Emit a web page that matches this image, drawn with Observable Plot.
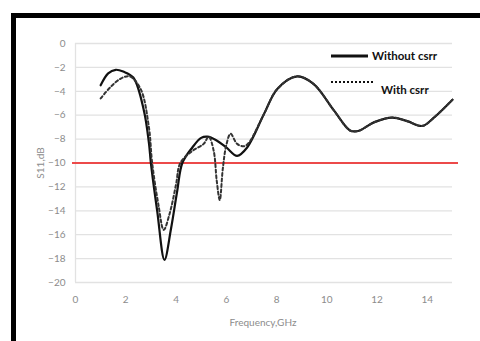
<!DOCTYPE html>
<html>
<head>
<meta charset="utf-8">
<script src="https://cdn.jsdelivr.net/npm/d3@7"></script>
<script src="https://cdn.jsdelivr.net/npm/@observablehq/plot@0.6"></script>
<style>
  html, body { margin: 0; padding: 0; background: #fff; }
  #wrap { position: relative; width: 480px; height: 341px; overflow: hidden; background: #fff; font-family: Lato, "Open Sans", sans-serif; }
  #frame { position: absolute; left: 11px; top: 13px; width: 500px; height: 400px; border-left: 5px solid #000; border-top: 5px solid #000; box-sizing: border-box; pointer-events: none; }
  #chart { position: absolute; left: 0; top: 0; }
  .leg { position: absolute; font-weight: bold; font-size: 11.5px; color: #111; white-space: nowrap; }
  .axt { position: absolute; font-size: 10px; color: #8c8c8c; white-space: nowrap; }
</style>
</head>
<body>
<div id="wrap">
  <div id="chart"></div>
  <div id="frame"></div>
  <svg style="position:absolute;left:0;top:0" width="480" height="341">
    <line x1="331" x2="368" y1="56" y2="56" stroke="#111" stroke-width="3"/>
    <line x1="331" x2="374" y1="82" y2="82" stroke="#111" stroke-width="2" stroke-dasharray="2,2"/>
  </svg>
  <div class="leg" id="leg1" style="left:372px; top:49px;"></div>
  <div class="leg" id="leg2" style="left:381px; top:83px;"></div>
  <div class="axt" id="xlab" style="left:263px; top:316px; transform:translateX(-50%);"></div>
  <div class="axt" id="ylab" style="left:40px; top:163px; transform:translate(-50%,-50%) rotate(-90deg);"></div>
</div>
<script>
const seriesNames = ["Without csrr", "With csrr"];
const xTitle = "Frequency,GHz";
const yTitle = "S11,dB";

const withoutFreq = [1.0, 1.3, 1.6, 1.9, 2.3, 2.72, 2.92, 3.0, 3.25, 3.54, 3.8, 4.05, 4.25, 4.65, 5.0, 5.25, 5.6, 6.0, 6.43, 6.83, 7.5, 8.03, 8.82, 9.48, 10.28, 10.94, 11.28, 11.87, 12.6, 13.2, 13.8, 14.26, 15.0];
const withoutVal  = [-3.5, -2.5, -2.2, -2.35, -2.85, -5.6, -8.3, -10, -14.0, -18.1, -15.5, -12.3, -10, -8.7, -7.9, -7.8, -8.1, -8.7, -9.4, -8.7, -5.9, -3.8, -2.75, -3.4, -5.6, -7.3, -7.3, -6.6, -6.2, -6.5, -6.9, -6.2, -4.7];

const withFreq = [1.0, 1.39, 1.79, 2.15, 2.59, 2.92, 3.05, 3.3, 3.51, 3.75, 4.0, 4.17, 4.64, 5.1, 5.3, 5.5, 5.62, 5.74, 5.86, 6.0, 6.17, 6.43, 6.7, 6.9, 7.5, 8.03, 8.82, 9.48, 10.28, 10.94, 11.28, 11.87, 12.6, 13.2, 13.8, 14.26, 15.0];
const withVal  = [-4.6, -3.65, -2.95, -2.75, -3.8, -7.0, -10, -13.5, -15.6, -14.2, -11.8, -10, -9.0, -8.4, -7.8, -9.0, -11.5, -13.1, -10.5, -8.5, -7.55, -8.4, -8.6, -8.3, -5.9, -3.8, -2.75, -3.4, -5.6, -7.3, -7.3, -6.6, -6.2, -6.5, -6.9, -6.2, -4.7];

const xTicks = [0, 2, 4, 6, 8, 10, 12, 14];
const yTicks = [0, -2, -4, -6, -8, -10, -12, -14, -16, -18, -20];
const threshold = [-10];

const withoutData = withoutFreq.map((f, i) => ({f, v: withoutVal[i]}));
const withData = withFreq.map((f, i) => ({f, v: withVal[i]}));

document.getElementById("leg1").textContent = seriesNames[0];
document.getElementById("leg2").textContent = seriesNames[1];
document.getElementById("xlab").textContent = xTitle;
document.getElementById("ylab").textContent = yTitle;

const chart = Plot.plot({
  width: 480,
  height: 341,
  marginLeft: 75,
  marginRight: 28,
  marginTop: 43,
  marginBottom: 59,
  style: {fontFamily: "Lato, 'Open Sans', sans-serif", fontSize: "10px", color: "#8c8c8c", background: "transparent"},
  x: {domain: [0, 15], ticks: xTicks, tickSize: 0, tickPadding: 13, label: null},
  y: {domain: [-20, 0], ticks: yTicks, tickSize: 0, tickPadding: 10, label: null},
  marks: [
    Plot.ruleY(yTicks, {stroke: "#e2e2e2", strokeWidth: 1.3}),
    Plot.ruleX([0], {stroke: "#e2e2e2", strokeWidth: 1.3}),
    Plot.ruleY(threshold, {stroke: "#ec4a4a", strokeWidth: 2, insetLeft: -3, insetRight: -6}),
    Plot.line(withoutData, {x: "f", y: "v", stroke: "#111", strokeWidth: 2.2, curve: "catmull-rom"}),
    Plot.line(withData, {x: "f", y: "v", stroke: "#333", strokeWidth: 2, strokeDasharray: "3,2.5", curve: "catmull-rom"})
  ]
});
document.getElementById("chart").appendChild(chart);
</script>
</body>
</html>
